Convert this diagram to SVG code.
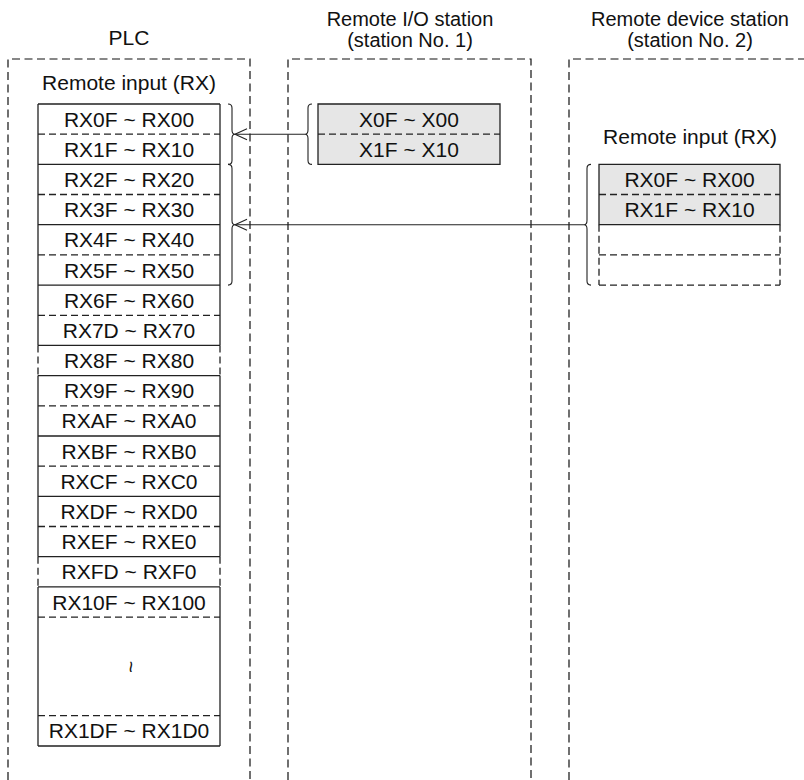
<svg xmlns="http://www.w3.org/2000/svg" width="804" height="780" viewBox="0 0 804 780">
<style>
text{font-family:"Liberation Sans",Arial,sans-serif;font-size:21px;fill:#111;text-anchor:middle}
.h{font-size:20px}
.col{fill:none;stroke:#111;stroke-width:1.2;stroke-dasharray:8 4.5}
.s{stroke:#222;stroke-width:1.3;fill:none}
.d{stroke:#222;stroke-width:1.3;fill:none;stroke-dasharray:7 4}
.gray{fill:#e6e6e6;stroke:none}
.br{fill:none;stroke:#222;stroke-width:1.1}
.ar{fill:none;stroke:#222;stroke-width:1.1}
</style>
<defs>
<marker id="open" markerUnits="userSpaceOnUse" markerWidth="16" markerHeight="16" refX="0" refY="0" viewBox="-14 -8 16 16" orient="auto-start-reverse">
<path d="M-12,-5.5 L0,0 L-12,5.5" fill="none" stroke="#222" stroke-width="1.1"/>
</marker>
</defs>
<rect width="804" height="780" fill="#fff"/>

<g id="plc">
<path class="col" d="M8,780 V59 H250 V780"/>
<text x="129" y="45">PLC</text>
<text x="129" y="90">Remote input (RX)</text>
<path class="s" d="M38,104 H220 M38,164.4 H220 M38,224.7 H220 M38,285.1 H220 M38,345.4 H220 M38,375.6 H220 M38,436 H220 M38,496.3 H220 M38,556.7 H220 M38,586.9 H220 M38,746 H220"/>
<path class="d" d="M38,134.2 H220 M38,194.5 H220 M38,254.9 H220 M38,315.3 H220 M38,405.8 H220 M38,466.2 H220 M38,526.5 H220 M38,617.1 H220 M38,715.7 H220"/>
<path class="s" d="M38,104 V345.4 M220,104 V345.4 M38,375.6 V556.7 M220,375.6 V556.7 M38,586.9 V746 M220,586.9 V746"/>
<path class="d" d="M38,345.4 V375.6 M220,345.4 V375.6 M38,556.7 V586.9 M220,556.7 V586.9"/>
<text x="129" y="126.6">RX0F ~ RX00</text>
<text x="129" y="156.8">RX1F ~ RX10</text>
<text x="129" y="187">RX2F ~ RX20</text>
<text x="129" y="217.1">RX3F ~ RX30</text>
<text x="129" y="247.3">RX4F ~ RX40</text>
<text x="129" y="277.5">RX5F ~ RX50</text>
<text x="129" y="307.7">RX6F ~ RX60</text>
<text x="129" y="337.9">RX7D ~ RX70</text>
<text x="129" y="368">RX8F ~ RX80</text>
<text x="129" y="398.2">RX9F ~ RX90</text>
<text x="129" y="428.4">RXAF ~ RXA0</text>
<text x="129" y="458.6">RXBF ~ RXB0</text>
<text x="129" y="488.8">RXCF ~ RXC0</text>
<text x="129" y="518.9">RXDF ~ RXD0</text>
<text x="129" y="549.1">RXEF ~ RXE0</text>
<text x="129" y="579.3">RXFD ~ RXF0</text>
<text x="129" y="609.5">RX10F ~ RX100</text>
<text x="129" y="667" font-size="15" transform="rotate(90 129 667)" dy="5">~</text>
<text x="129" y="738.3">RX1DF ~ RX1D0</text>
</g>

<g id="remote-io">
<path class="col" d="M288,780 V59 H531 V780"/>
<text class="h" x="410" y="26">Remote I/O station</text>
<text class="h" x="410" y="47">(station No. 1)</text>
<rect class="gray" x="318" y="104" width="182" height="60.4"/>
<path class="s" d="M318,104 H500 V164.4 H318 Z"/>
<path class="d" d="M318,134.2 H500"/>
<text x="409" y="126.6">X0F ~ X00</text>
<text x="409" y="156.8">X1F ~ X10</text>
</g>

<g id="remote-device">
<path class="col" d="M569,780 V59 H804"/>
<text class="h" x="690" y="26">Remote device station</text>
<text class="h" x="690" y="47">(station No. 2)</text>
<text x="690" y="144">Remote input (RX)</text>
<rect class="gray" x="599" y="164.4" width="181" height="60.3"/>
<path class="s" d="M599,164.4 H780 V224.7 H599 Z"/>
<path class="d" d="M599,194.5 H780 M599,254.9 H780 M599,285.1 H780 M599,224.7 V285.1 M780,224.7 V285.1"/>
<text x="689.5" y="187">RX0F ~ RX00</text>
<text x="689.5" y="217.1">RX1F ~ RX10</text>
</g>

<g id="connectors">
<path class="br" d="M228,104 Q232,104 232,108 L232,130 Q232,134.2 235,134.2 Q232,134.2 232,138.4 L232,160.4 Q232,164.4 228,164.4"/>
<path class="br" d="M228,164.4 Q232,164.4 232,168.4 L232,220.5 Q232,224.7 235,224.7 Q232,224.7 232,228.9 L232,281.1 Q232,285.1 228,285.1"/>
<path class="br" d="M312,104 Q308,104 308,108 L308,130 Q308,134.2 305,134.2 Q308,134.2 308,138.4 L308,160.4 Q308,164.4 312,164.4"/>
<path class="br" d="M591,164.4 Q587,164.4 587,168.4 L587,220.5 Q587,224.7 584,224.7 Q587,224.7 587,228.9 L587,281.1 Q587,285.1 591,285.1"/>
<line class="ar" x1="235" y1="134.2" x2="305" y2="134.2" marker-start="url(#open)"/>
<line class="ar" x1="235" y1="224.7" x2="584" y2="224.7" marker-start="url(#open)"/>
</g>
</svg>
